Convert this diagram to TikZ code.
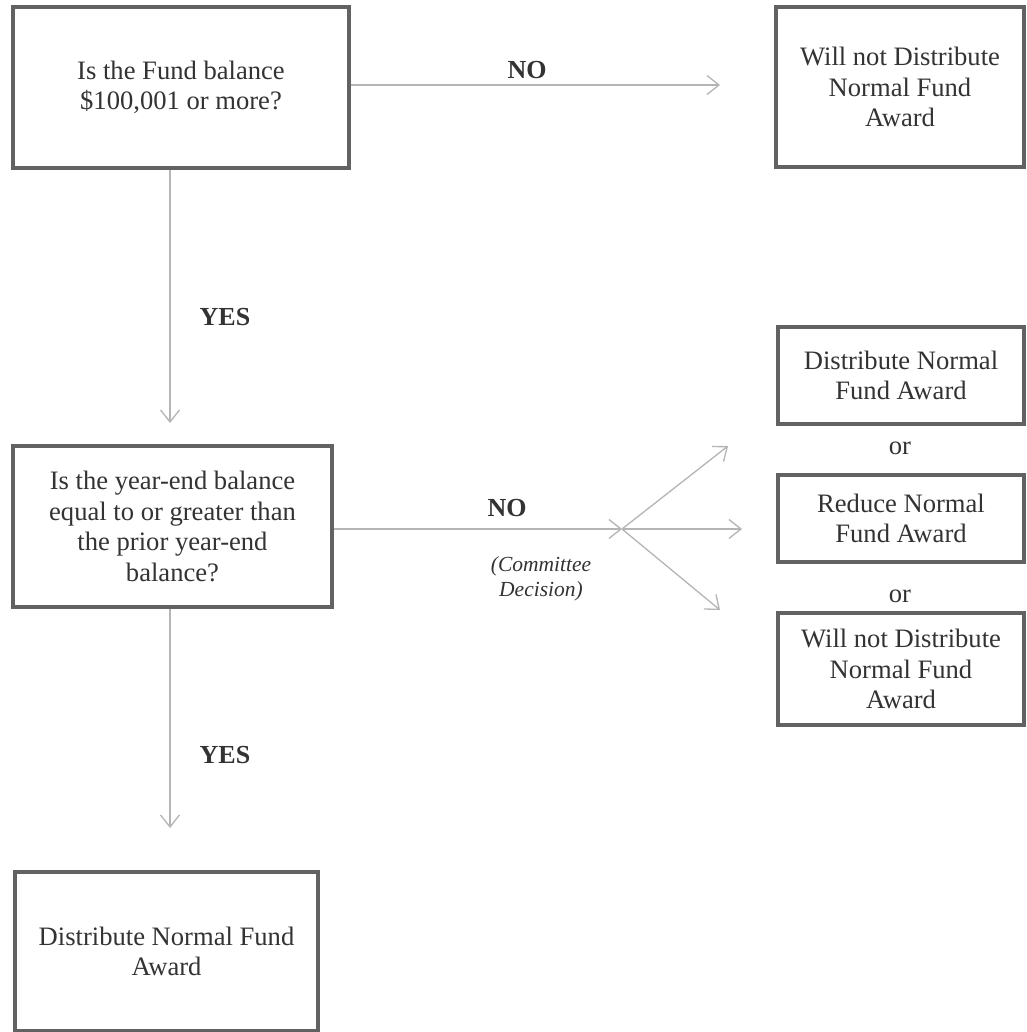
\documentclass[tikz,border=0pt]{standalone}
\usepackage{fontspec}
\setmainfont{Liberation Serif}
\usetikzlibrary{arrows.meta}
\definecolor{txt}{HTML}{333333}
\definecolor{brd}{HTML}{626262}
\definecolor{arr}{HTML}{B5B5B5}
\begin{document}
\begin{tikzpicture}[x=1pt,y=-1pt,
  box/.style={draw=brd,line width=3.4pt,rectangle,inner sep=0pt,align=center,text=txt,
    font=\fontsize{26.6}{30.5}\selectfont},
  conn/.style={draw=arr,line width=1.3pt,-{Straight Barb[length=12pt,width=19pt,line width=1.3pt]}},
  lbl/.style={text=txt,font=\fontsize{26}{30}\selectfont\bfseries,inner sep=0pt},
  ital/.style={text=txt,font=\fontsize{21.5}{25}\selectfont\itshape,align=center,inner sep=0pt},
  ortext/.style={text=txt,font=\fontsize{26.6}{30}\selectfont,inner sep=0pt}]
\fill[white] (0,0) rectangle (1026,1032);
\useasboundingbox (0,0) rectangle (1026,1032);
% boxes
\node[box,minimum width=336pt,minimum height=161pt] (b1) at (181,87.5)
  {Is the Fund balance\\\$100,001 or more?};
\node[box,minimum width=248pt,minimum height=160pt] (b2) at (900,87)
  {Will not Distribute\\Normal Fund\\Award};
\node[box,minimum width=319pt,minimum height=161pt] (b3) at (172.5,526.5)
  {Is the year-end balance\\equal to or greater than\\the prior year-end\\balance?};
\node[box,minimum width=303pt,minimum height=159pt] (b4) at (166.5,951.5)
  {Distribute Normal Fund\\Award};
\node[box,minimum width=246pt,minimum height=97pt] (ra) at (901,375.5)
  {Distribute Normal\\Fund Award};
\node[box,minimum width=246pt,minimum height=87pt] (rb) at (901,518.5)
  {Reduce Normal\\Fund Award};
\node[box,minimum width=246pt,minimum height=112pt] (rc) at (901,669)
  {Will not Distribute\\Normal Fund\\Award};
% 'or' labels
\node[ortext] (or1) at (900,448) {or};
\node[ortext] (or2) at (900,596) {or};
% connector end points
\coordinate (n1) at (720,85);
\coordinate (t1) at (170,423);
\coordinate (t2) at (170,828);
\coordinate (f) at (622,529);
\coordinate (ua) at (728,446);
\coordinate (ub) at (742,529);
\coordinate (uc) at (720,610);
% connectors
\draw[conn] (b1.east |- n1) -- (n1);
\draw[conn] (t1 |- b1.south) -- (t1);
\draw[conn] (t2 |- b3.south) -- (t2);
\draw[conn] (b3.east |- f) -- (f);
\draw[conn] (f) -- (ua);
\draw[conn] (f) -- (ub);
\draw[conn] (f) -- (uc);
% labels
\node[lbl] (no1) at (527,70) {NO};
\node[lbl] (yes1) at (225,317) {YES};
\node[lbl] (no2) at (507,508) {NO};
\node[lbl] (yes2) at (225,755) {YES};
\node[ital] (cd) at (541,579) {(Committee\\Decision)};
\end{tikzpicture}
\end{document}
